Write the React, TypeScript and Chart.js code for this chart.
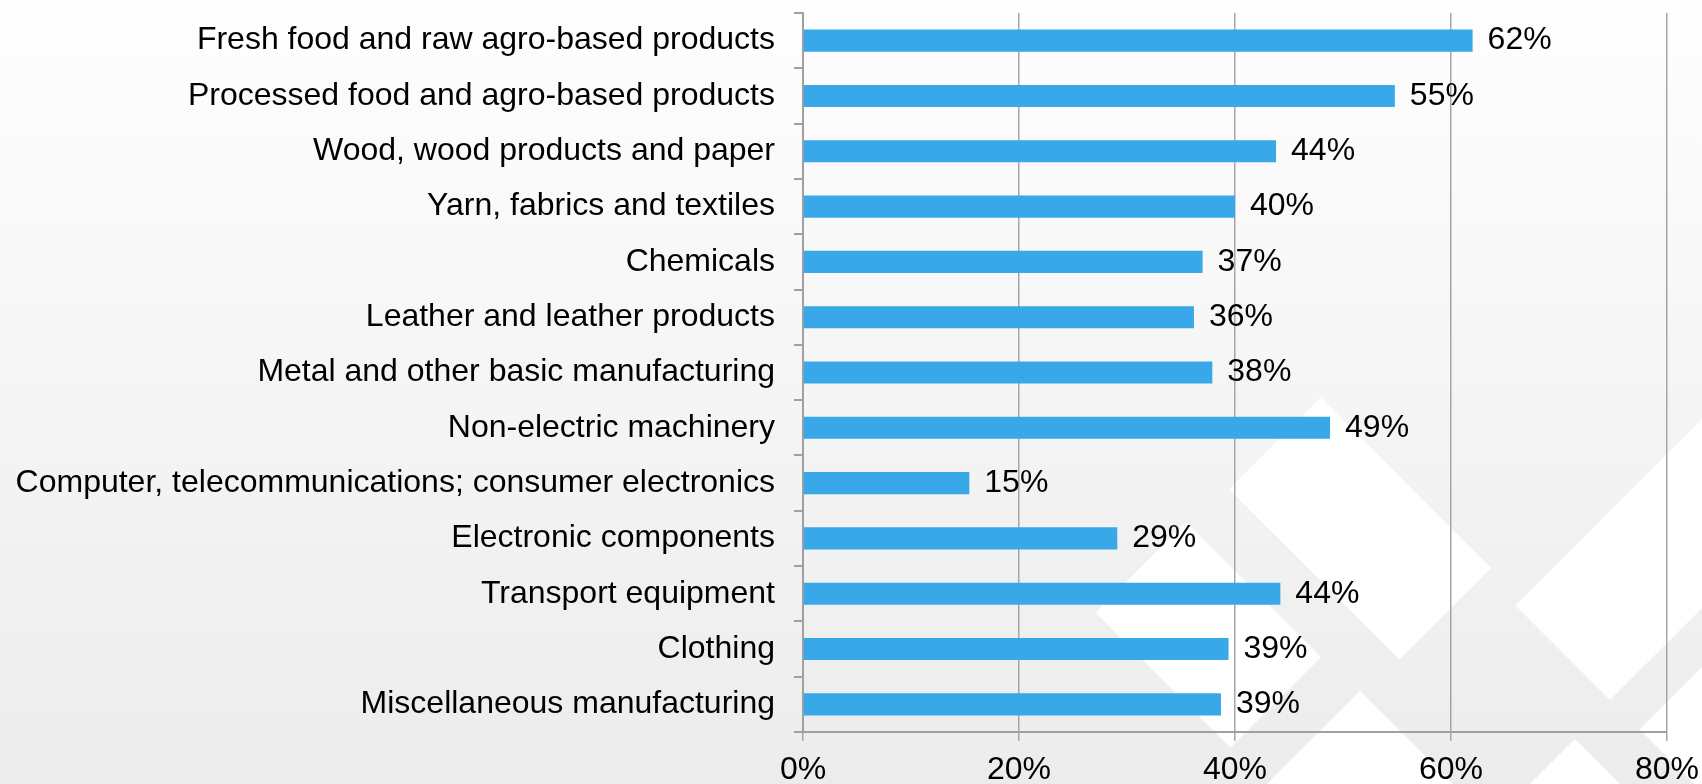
import React, { useEffect, useRef } from 'react';
import { Chart, registerables } from 'chart.js';

Chart.register(...registerables);

const categories = [
  'Fresh food and raw agro-based products',
  'Processed food and agro-based products',
  'Wood, wood products and paper',
  'Yarn, fabrics and textiles',
  'Chemicals',
  'Leather and leather products',
  'Metal and other basic manufacturing',
  'Non-electric machinery',
  'Computer, telecommunications; consumer electronics',
  'Electronic components',
  'Transport equipment',
  'Clothing',
  'Miscellaneous manufacturing',
];

const values = [62.0, 54.8, 43.8, 40.0, 37.0, 36.2, 37.9, 48.8, 15.4, 29.1, 44.2, 39.4, 38.7];

const xTickValues = [0, 20, 40, 60, 80];

// decorative watermark tiles in rotated (u = x + y, w = y - x) coordinates: [u0, u1, w0, w1]
const watermarkTiles = [
  [1718, 2059, -923, -740],
  [1708, 1978, -664, -483],
  [2051, 2300, -669, -483],
  [2121, 2310, -1400, -910],
  [2314, 2600, -836, -650],
  [2369, 2700, -1400, -910],
];

const FONT_FAMILY = '"Liberation Sans", Arial, Helvetica, sans-serif';

const backgroundPlugin = {
  id: 'bgWatermark',
  beforeDraw(chart: any) {
    const { ctx, width, height } = chart;
    ctx.save();
    const g = ctx.createLinearGradient(0, 0, 0, height);
    g.addColorStop(0, '#fefefe');
    g.addColorStop(1, '#ececec');
    ctx.fillStyle = g;
    ctx.fillRect(0, 0, width, height);
    ctx.fillStyle = '#ffffff';
    for (const [u0, u1, w0, w1] of watermarkTiles) {
      const pts = [
        [u0, w0],
        [u1, w0],
        [u1, w1],
        [u0, w1],
      ].map(([u, w]) => [(u - w) / 2, (u + w) / 2]);
      ctx.beginPath();
      ctx.moveTo(pts[0][0], pts[0][1]);
      for (let i = 1; i < pts.length; i++) ctx.lineTo(pts[i][0], pts[i][1]);
      ctx.closePath();
      ctx.fill();
    }
    ctx.restore();
  },
};

const valueLabelPlugin = {
  id: 'valueLabels',
  afterDatasetsDraw(chart: any) {
    const { ctx } = chart;
    const meta = chart.getDatasetMeta(0);
    ctx.save();
    ctx.font = `32px ${FONT_FAMILY}`;
    ctx.fillStyle = '#000000';
    ctx.textBaseline = 'middle';
    ctx.textAlign = 'left';
    meta.data.forEach((bar: any, i: number) => {
      const v = chart.data.datasets[0].data[i] as number;
      ctx.fillText(Math.round(v) + '%', bar.x + 15, bar.y);
    });
    ctx.restore();
  },
};

export default function App() {
  const canvasRef = useRef<HTMLCanvasElement | null>(null);

  useEffect(() => {
    if (!canvasRef.current) return;
    const font = { family: FONT_FAMILY, size: 32 };
    const chart = new Chart(canvasRef.current, {
      type: 'bar',
      data: {
        labels: categories,
        datasets: [
          {
            data: values,
            backgroundColor: '#38a8e8',
            borderWidth: 0,
            barPercentage: 0.4,
            categoryPercentage: 1.0,
          },
        ],
      },
      options: {
        indexAxis: 'y',
        responsive: false,
        animation: false,
        devicePixelRatio: 1,
        layout: { padding: { top: 13, right: 35, left: 0, bottom: 0 } },
        plugins: {
          legend: { display: false },
          tooltip: { enabled: false },
          title: { display: false },
        },
        scales: {
          x: {
            type: 'linear',
            min: 0,
            max: 80,
            afterBuildTicks: (s: any) => {
              s.ticks = xTickValues.map((v) => ({ value: v }));
            },
            afterFit: (s: any) => {
              s.height = 52;
              s.paddingLeft = 0;
              s.paddingRight = 0;
            },
            ticks: {
              callback: (v: any) => v + '%',
              font,
              color: '#000000',
              padding: 10,
              maxRotation: 0,
              autoSkip: false,
            },
            grid: {
              color: '#a6a6a6',
              lineWidth: 1.5,
              drawTicks: true,
              tickLength: 9,
            },
            border: { display: true, color: '#a0a0a0', width: 2 },
          },
          y: {
            type: 'category',
            afterFit: (s: any) => {
              s.width = 803;
              s.paddingTop = 0;
              s.paddingBottom = 0;
            },
            ticks: {
              font,
              color: '#000000',
              padding: 19,
              autoSkip: false,
            },
            grid: {
              display: true,
              drawOnChartArea: false,
              drawTicks: true,
              tickLength: 9,
              color: '#a0a0a0',
              lineWidth: 2,
              offset: true,
            },
            border: { display: true, color: '#a0a0a0', width: 2 },
          },
        },
      },
      plugins: [backgroundPlugin, valueLabelPlugin],
    } as any);
    return () => chart.destroy();
  }, []);

  return (
    <div style={{ position: 'fixed', left: 0, top: 0, width: 1702, height: 784, overflow: 'hidden' }}>
      <canvas ref={canvasRef} width={1702} height={784} style={{ display: 'block', width: 1702, height: 784 }} />
    </div>
  );
}
